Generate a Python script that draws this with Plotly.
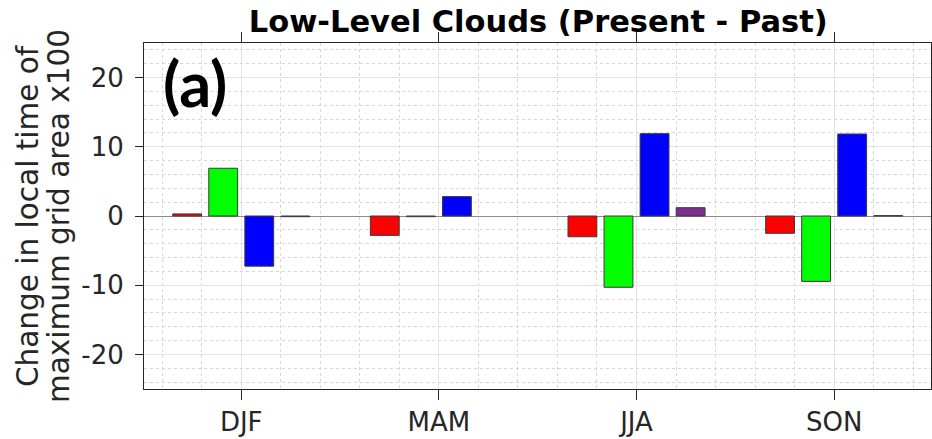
import plotly.graph_objects as go

seasons = ["DJF", "MAM", "JJA", "SON"]
x_pos = [1, 2, 3, 4]
series_red = [0.3, -2.8, -3.0, -2.5]
series_green = [6.9, -0.1, -10.3, -9.45]
series_blue = [-7.25, 2.8, 11.9, 11.85]
series_purple = [-0.1, None, 1.2, 0.05]
y_tickvals = [-20, -10, 0, 10, 20]
y_ticktext = ["-20", "-10", "0", "10", "20"]

colors = ["#FF0000", "#00FF00", "#0000FF", "#7E2F8E"]
all_series = [series_red, series_green, series_blue, series_purple]

fig = go.Figure()
for vals, c in zip(all_series, colors):
    fig.add_trace(go.Bar(x=x_pos, y=vals, marker=dict(color=c, line=dict(color="#3a3a3a", width=1)),
                         showlegend=False))

axcol = "#262626"
fig.update_layout(
    width=932, height=439,
    margin=dict(l=144, r=1, t=43, b=50),
    paper_bgcolor="white", plot_bgcolor="white",
    barmode="group", bargap=0.27, bargroupgap=0.2,
    font=dict(family="DejaVu Sans", color=axcol),
    title=dict(text="<b>Low-Level Clouds (Present - Past)</b>", x=0.5775, xanchor="center",
               y=0.952, yanchor="middle", font=dict(size=30.5, color="black", family="DejaVu Sans")),
    xaxis=dict(range=[0.508, 4.49], tickmode="array", tickvals=x_pos, ticktext=seasons,
               ticks="outside", ticklen=10, tickcolor=axcol, tickfont=dict(size=26, color=axcol),
               showline=True, linecolor=axcol, linewidth=1, mirror="ticks",
               showgrid=True, gridcolor="#e3e3e3", gridwidth=1, zeroline=False,
               minor=dict(dtick=0.2, tick0=0, showgrid=True, gridcolor="#d6d6d6", griddash="dot", ticks="")),
    yaxis=dict(range=[-25, 25], tickmode="array", tickvals=y_tickvals, ticktext=y_ticktext,
               ticks="outside", ticklen=8, tickcolor=axcol, tickfont=dict(size=26, color=axcol),
               ticklabelstandoff=6,
               showline=True, linecolor=axcol, linewidth=1, mirror=True,
               showgrid=True, gridcolor="#e3e3e3", gridwidth=1,
               zeroline=True, zerolinecolor="#8c8c8c", zerolinewidth=1,
               minor=dict(dtick=2, tick0=0, showgrid=True, gridcolor="#d6d6d6", griddash="dot", ticks="")),
)

fig.add_annotation(text="Change in local time of", xref="paper", yref="paper",
                   x=(28 - 144) / 787, y=0.5, xanchor="center", yanchor="middle",
                   textangle=-90, showarrow=False, font=dict(size=29.5, color=axcol))
fig.add_annotation(text="maximum grid area x100", xref="paper", yref="paper",
                   x=(59 - 144) / 787, y=0.5, xanchor="center", yanchor="middle",
                   textangle=-90, showarrow=False, font=dict(size=29.5, color=axcol))

fig.add_annotation(text="<b>(a)</b>", xref="paper", yref="paper", x=0.021, y=1.0,
                   xanchor="left", yanchor="top", showarrow=False,
                   font=dict(family="Lato", size=63, color="black", weight=900))

fig.write_html("out.html", post_script="document.body.style.margin='0';",
               config={"displayModeBar": False})
